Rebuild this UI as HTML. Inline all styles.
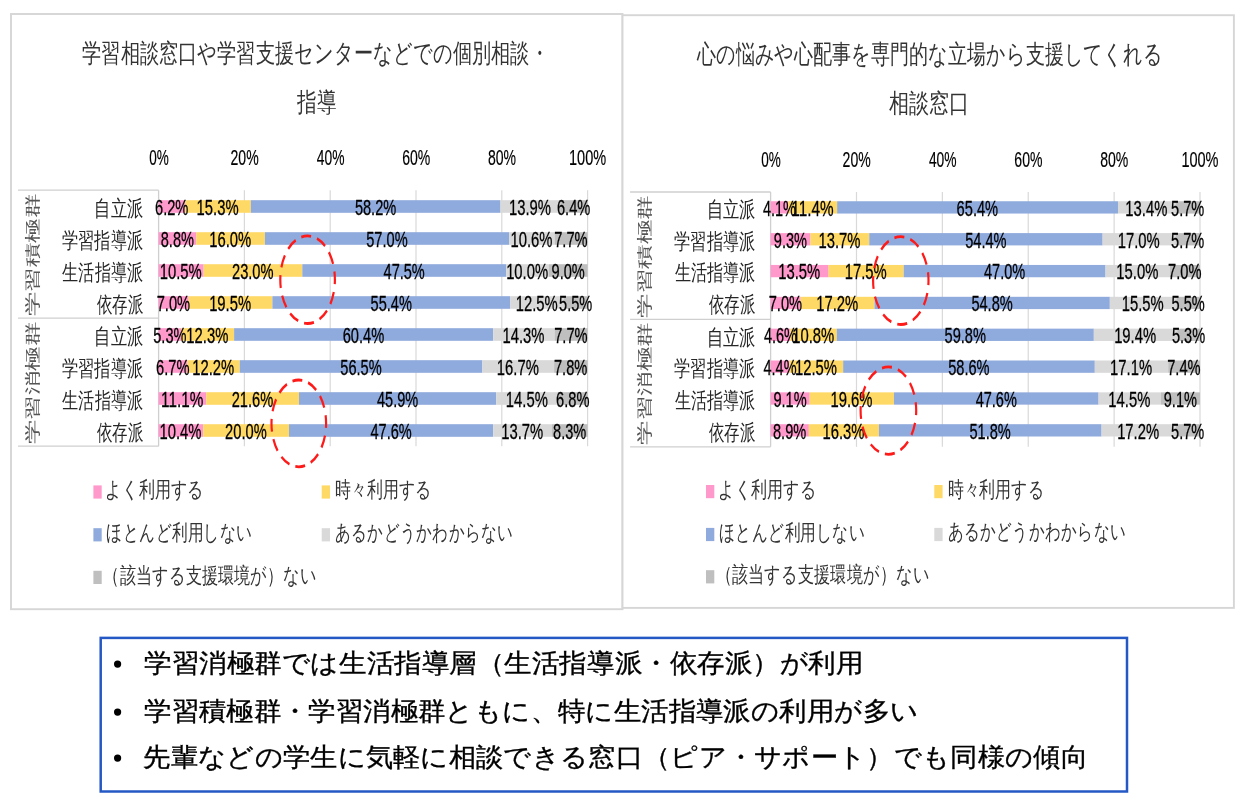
<!DOCTYPE html>
<html lang="ja">
<head>
<meta charset="utf-8">
<title>学生支援の利用状況</title>
<style>
html,body{margin:0;padding:0;background:#fff}
body{width:1235px;height:800px;overflow:hidden;font-family:"Liberation Sans",sans-serif}
svg{display:block;position:absolute;left:0;top:0;will-change:transform}
svg text{font-family:"Liberation Sans",sans-serif;white-space:pre}
svg text.dl{stroke:#000;stroke-width:0.3px}
svg text.ax{stroke:#000;stroke-width:0.2px}
svg text.bt{stroke:#000;stroke-width:0.35px}
</style>
</head>
<body>
<svg width="1235" height="800" viewBox="0 0 1235 800">
<rect x="11.0" y="14.0" width="611.50" height="595.20" fill="#fff" stroke="#d6d6d6" stroke-width="1.9"/>
<text x="82.14" y="61.67" font-size="26" textLength="466.73" lengthAdjust="spacingAndGlyphs" fill="#333">学習相談窓口や学習支援センターなどでの個別相談・</text>
<text x="297.20" y="110.68" font-size="26" textLength="39.34" lengthAdjust="spacingAndGlyphs" fill="#333">指導</text>
<line x1="244.40" y1="190.20" x2="244.40" y2="446.20" stroke="#d9d9d9" stroke-width="1.2"/>
<line x1="330.20" y1="190.20" x2="330.20" y2="446.20" stroke="#d9d9d9" stroke-width="1.2"/>
<line x1="416.00" y1="190.20" x2="416.00" y2="446.20" stroke="#d9d9d9" stroke-width="1.2"/>
<line x1="501.80" y1="190.20" x2="501.80" y2="446.20" stroke="#d9d9d9" stroke-width="1.2"/>
<line x1="587.60" y1="190.20" x2="587.60" y2="446.20" stroke="#d9d9d9" stroke-width="1.2"/>
<text x="149.13" y="164.79" font-size="22.5" textLength="19.53" lengthAdjust="spacingAndGlyphs" fill="#000" class="ax">0%</text>
<text x="230.53" y="164.79" font-size="22.5" textLength="28.12" lengthAdjust="spacingAndGlyphs" fill="#000" class="ax">20%</text>
<text x="316.78" y="164.79" font-size="22.5" textLength="27.66" lengthAdjust="spacingAndGlyphs" fill="#000" class="ax">40%</text>
<text x="402.13" y="164.79" font-size="22.5" textLength="28.12" lengthAdjust="spacingAndGlyphs" fill="#000" class="ax">60%</text>
<text x="487.93" y="164.79" font-size="22.5" textLength="28.12" lengthAdjust="spacingAndGlyphs" fill="#000" class="ax">80%</text>
<text x="568.99" y="164.79" font-size="22.5" textLength="37.15" lengthAdjust="spacingAndGlyphs" fill="#000" class="ax">100%</text>
<line x1="18.00" y1="190.20" x2="158.60" y2="190.20" stroke="#cfcfcf" stroke-width="1.3"/>
<line x1="18.00" y1="318.20" x2="158.60" y2="318.20" stroke="#cfcfcf" stroke-width="1.3"/>
<line x1="18.00" y1="446.20" x2="158.60" y2="446.20" stroke="#cfcfcf" stroke-width="1.3"/>
<line x1="158.60" y1="190.20" x2="158.60" y2="446.20" stroke="#cfcfcf" stroke-width="1.3"/>
<text transform="translate(32.50,255.10) rotate(-90)" x="-60.98" y="5.30" font-size="15.5" textLength="122.55" lengthAdjust="spacingAndGlyphs" fill="#555">学習積極群</text>
<text transform="translate(32.50,383.10) rotate(-90)" x="-60.98" y="5.30" font-size="15.5" textLength="122.55" lengthAdjust="spacingAndGlyphs" fill="#555">学習消極群</text>
<text x="94.28" y="216.28" font-size="21.5" textLength="48.80" lengthAdjust="spacingAndGlyphs" fill="#262626">自立派</text>
<text x="61.91" y="247.75" font-size="21.5" textLength="81.16" lengthAdjust="spacingAndGlyphs" fill="#262626">学習指導派</text>
<text x="62.30" y="279.75" font-size="21.5" textLength="80.77" lengthAdjust="spacingAndGlyphs" fill="#262626">生活指導派</text>
<text x="96.60" y="311.75" font-size="21.5" textLength="46.44" lengthAdjust="spacingAndGlyphs" fill="#262626">依存派</text>
<text x="94.28" y="344.28" font-size="21.5" textLength="48.80" lengthAdjust="spacingAndGlyphs" fill="#262626">自立派</text>
<text x="61.91" y="375.75" font-size="21.5" textLength="81.16" lengthAdjust="spacingAndGlyphs" fill="#262626">学習指導派</text>
<text x="62.30" y="407.75" font-size="21.5" textLength="80.77" lengthAdjust="spacingAndGlyphs" fill="#262626">生活指導派</text>
<text x="96.60" y="439.75" font-size="21.5" textLength="46.44" lengthAdjust="spacingAndGlyphs" fill="#262626">依存派</text>
<rect x="158.60" y="200.20" width="26.60" height="12.60" fill="#ff99cc"/>
<rect x="185.20" y="200.20" width="65.64" height="12.60" fill="#ffd966"/>
<rect x="250.83" y="200.20" width="249.68" height="12.60" fill="#8faadc"/>
<rect x="500.51" y="200.20" width="59.63" height="12.60" fill="#d9d9d9"/>
<rect x="560.14" y="200.20" width="27.46" height="12.60" fill="#bfbfbf"/>
<text x="155.00" y="214.89" font-size="22.5" textLength="33.39" lengthAdjust="spacingAndGlyphs" fill="#000" class="dl">6.2%</text>
<text x="196.62" y="214.89" font-size="22.5" textLength="42.00" lengthAdjust="spacingAndGlyphs" fill="#000" class="dl">15.3%</text>
<text x="354.88" y="214.89" font-size="22.5" textLength="41.39" lengthAdjust="spacingAndGlyphs" fill="#000" class="dl">58.2%</text>
<text x="508.93" y="214.89" font-size="22.5" textLength="42.00" lengthAdjust="spacingAndGlyphs" fill="#000" class="dl">13.9%</text>
<text x="556.98" y="214.89" font-size="22.5" textLength="33.39" lengthAdjust="spacingAndGlyphs" fill="#000" class="dl">6.4%</text>
<rect x="158.60" y="232.20" width="37.71" height="12.60" fill="#ff99cc"/>
<rect x="196.31" y="232.20" width="68.57" height="12.60" fill="#ffd966"/>
<rect x="264.89" y="232.20" width="244.29" height="12.60" fill="#8faadc"/>
<rect x="509.17" y="232.20" width="45.43" height="12.60" fill="#d9d9d9"/>
<rect x="554.60" y="232.20" width="33.00" height="12.60" fill="#bfbfbf"/>
<text x="160.76" y="246.89" font-size="22.5" textLength="33.19" lengthAdjust="spacingAndGlyphs" fill="#000" class="dl">8.8%</text>
<text x="209.20" y="246.89" font-size="22.5" textLength="42.00" lengthAdjust="spacingAndGlyphs" fill="#000" class="dl">16.0%</text>
<text x="366.24" y="246.89" font-size="22.5" textLength="41.39" lengthAdjust="spacingAndGlyphs" fill="#000" class="dl">57.0%</text>
<text x="510.49" y="246.89" font-size="22.5" textLength="42.00" lengthAdjust="spacingAndGlyphs" fill="#000" class="dl">10.6%</text>
<text x="554.20" y="246.89" font-size="22.5" textLength="33.39" lengthAdjust="spacingAndGlyphs" fill="#000" class="dl">7.7%</text>
<rect x="158.60" y="264.20" width="45.04" height="12.60" fill="#ff99cc"/>
<rect x="203.64" y="264.20" width="98.67" height="12.60" fill="#ffd966"/>
<rect x="302.31" y="264.20" width="203.78" height="12.60" fill="#8faadc"/>
<rect x="506.09" y="264.20" width="42.90" height="12.60" fill="#d9d9d9"/>
<rect x="548.99" y="264.20" width="38.61" height="12.60" fill="#bfbfbf"/>
<text x="159.72" y="278.89" font-size="22.5" textLength="42.00" lengthAdjust="spacingAndGlyphs" fill="#000" class="dl">10.5%</text>
<text x="231.99" y="278.89" font-size="22.5" textLength="41.59" lengthAdjust="spacingAndGlyphs" fill="#000" class="dl">23.0%</text>
<text x="383.61" y="278.89" font-size="22.5" textLength="41.18" lengthAdjust="spacingAndGlyphs" fill="#000" class="dl">47.5%</text>
<text x="506.14" y="278.89" font-size="22.5" textLength="42.00" lengthAdjust="spacingAndGlyphs" fill="#000" class="dl">10.0%</text>
<text x="551.60" y="278.89" font-size="22.5" textLength="33.19" lengthAdjust="spacingAndGlyphs" fill="#000" class="dl">9.0%</text>
<rect x="158.60" y="296.20" width="30.06" height="12.60" fill="#ff99cc"/>
<rect x="188.66" y="296.20" width="83.74" height="12.60" fill="#ffd966"/>
<rect x="272.40" y="296.20" width="237.90" height="12.60" fill="#8faadc"/>
<rect x="510.30" y="296.20" width="53.68" height="12.60" fill="#d9d9d9"/>
<rect x="563.98" y="296.20" width="23.62" height="12.60" fill="#bfbfbf"/>
<text x="156.73" y="310.89" font-size="22.5" textLength="33.39" lengthAdjust="spacingAndGlyphs" fill="#000" class="dl">7.0%</text>
<text x="209.13" y="310.89" font-size="22.5" textLength="42.00" lengthAdjust="spacingAndGlyphs" fill="#000" class="dl">19.5%</text>
<text x="370.56" y="310.89" font-size="22.5" textLength="41.39" lengthAdjust="spacingAndGlyphs" fill="#000" class="dl">55.4%</text>
<text x="515.74" y="310.89" font-size="22.5" textLength="42.00" lengthAdjust="spacingAndGlyphs" fill="#000" class="dl">12.5%</text>
<text x="559.10" y="310.89" font-size="22.5" textLength="33.19" lengthAdjust="spacingAndGlyphs" fill="#000" class="dl">5.5%</text>
<rect x="158.60" y="328.20" width="22.74" height="12.60" fill="#ff99cc"/>
<rect x="181.34" y="328.20" width="52.77" height="12.60" fill="#ffd966"/>
<rect x="234.10" y="328.20" width="259.12" height="12.60" fill="#8faadc"/>
<rect x="493.22" y="328.20" width="61.35" height="12.60" fill="#d9d9d9"/>
<rect x="554.57" y="328.20" width="33.03" height="12.60" fill="#bfbfbf"/>
<text x="153.28" y="342.89" font-size="22.5" textLength="33.19" lengthAdjust="spacingAndGlyphs" fill="#000" class="dl">5.3%</text>
<text x="186.32" y="342.89" font-size="22.5" textLength="42.00" lengthAdjust="spacingAndGlyphs" fill="#000" class="dl">12.3%</text>
<text x="342.67" y="342.89" font-size="22.5" textLength="41.59" lengthAdjust="spacingAndGlyphs" fill="#000" class="dl">60.4%</text>
<text x="502.49" y="342.89" font-size="22.5" textLength="42.00" lengthAdjust="spacingAndGlyphs" fill="#000" class="dl">14.3%</text>
<text x="554.19" y="342.89" font-size="22.5" textLength="33.39" lengthAdjust="spacingAndGlyphs" fill="#000" class="dl">7.7%</text>
<rect x="158.60" y="360.20" width="28.77" height="12.60" fill="#ff99cc"/>
<rect x="187.37" y="360.20" width="52.39" height="12.60" fill="#ffd966"/>
<rect x="239.76" y="360.20" width="242.63" height="12.60" fill="#8faadc"/>
<rect x="482.39" y="360.20" width="71.71" height="12.60" fill="#d9d9d9"/>
<rect x="554.10" y="360.20" width="33.50" height="12.60" fill="#bfbfbf"/>
<text x="156.09" y="374.89" font-size="22.5" textLength="33.39" lengthAdjust="spacingAndGlyphs" fill="#000" class="dl">6.7%</text>
<text x="192.17" y="374.89" font-size="22.5" textLength="42.00" lengthAdjust="spacingAndGlyphs" fill="#000" class="dl">12.2%</text>
<text x="340.28" y="374.89" font-size="22.5" textLength="41.39" lengthAdjust="spacingAndGlyphs" fill="#000" class="dl">56.5%</text>
<text x="496.85" y="374.89" font-size="22.5" textLength="42.00" lengthAdjust="spacingAndGlyphs" fill="#000" class="dl">16.7%</text>
<text x="553.96" y="374.89" font-size="22.5" textLength="33.39" lengthAdjust="spacingAndGlyphs" fill="#000" class="dl">7.8%</text>
<rect x="158.60" y="392.20" width="47.67" height="12.60" fill="#ff99cc"/>
<rect x="206.27" y="392.20" width="92.76" height="12.60" fill="#ffd966"/>
<rect x="299.02" y="392.20" width="197.11" height="12.60" fill="#8faadc"/>
<rect x="496.13" y="392.20" width="62.27" height="12.60" fill="#d9d9d9"/>
<rect x="558.40" y="392.20" width="29.20" height="12.60" fill="#bfbfbf"/>
<text x="161.03" y="406.89" font-size="22.5" textLength="42.21" lengthAdjust="spacingAndGlyphs" fill="#000" class="dl">11.1%</text>
<text x="231.65" y="406.89" font-size="22.5" textLength="41.59" lengthAdjust="spacingAndGlyphs" fill="#000" class="dl">21.6%</text>
<text x="376.99" y="406.89" font-size="22.5" textLength="41.18" lengthAdjust="spacingAndGlyphs" fill="#000" class="dl">45.9%</text>
<text x="505.87" y="406.89" font-size="22.5" textLength="42.00" lengthAdjust="spacingAndGlyphs" fill="#000" class="dl">14.5%</text>
<text x="556.10" y="406.89" font-size="22.5" textLength="33.39" lengthAdjust="spacingAndGlyphs" fill="#000" class="dl">6.8%</text>
<rect x="158.60" y="424.20" width="44.62" height="12.60" fill="#ff99cc"/>
<rect x="203.22" y="424.20" width="85.80" height="12.60" fill="#ffd966"/>
<rect x="289.02" y="424.20" width="204.20" height="12.60" fill="#8faadc"/>
<rect x="493.22" y="424.20" width="58.77" height="12.60" fill="#d9d9d9"/>
<rect x="551.99" y="424.20" width="35.61" height="12.60" fill="#bfbfbf"/>
<text x="159.51" y="438.89" font-size="22.5" textLength="42.00" lengthAdjust="spacingAndGlyphs" fill="#000" class="dl">10.4%</text>
<text x="225.12" y="438.89" font-size="22.5" textLength="41.59" lengthAdjust="spacingAndGlyphs" fill="#000" class="dl">20.0%</text>
<text x="370.53" y="438.89" font-size="22.5" textLength="41.18" lengthAdjust="spacingAndGlyphs" fill="#000" class="dl">47.6%</text>
<text x="501.21" y="438.89" font-size="22.5" textLength="42.00" lengthAdjust="spacingAndGlyphs" fill="#000" class="dl">13.7%</text>
<text x="553.10" y="438.89" font-size="22.5" textLength="33.19" lengthAdjust="spacingAndGlyphs" fill="#000" class="dl">8.3%</text>
<ellipse transform="translate(307.6,279.7) scale(0.78,1)" cx="0" cy="0" rx="35.00" ry="43.8" fill="none" stroke="#ff1a1a" stroke-width="2.8" pathLength="120" stroke-dasharray="6.2 3.8" stroke-dashoffset="4.0"/>
<ellipse transform="translate(298.8,423.4) scale(0.78,1)" cx="0" cy="0" rx="35.00" ry="43.4" fill="none" stroke="#ff1a1a" stroke-width="2.8" pathLength="120" stroke-dasharray="6.2 3.8" stroke-dashoffset="4.0"/>
<rect x="93.40" y="485.40" width="8.3" height="13.2" fill="#ff99cc"/>
<text x="105.24" y="497.31" font-size="21.5" textLength="98.92" lengthAdjust="spacingAndGlyphs" fill="#333">よく利用する</text>
<rect x="321.70" y="485.40" width="8.3" height="13.2" fill="#ffd966"/>
<text x="335.03" y="497.31" font-size="21.5" textLength="96.98" lengthAdjust="spacingAndGlyphs" fill="#333">時々利用する</text>
<rect x="93.40" y="528.20" width="8.3" height="13.2" fill="#8faadc"/>
<text x="106.43" y="540.11" font-size="21.5" textLength="146.03" lengthAdjust="spacingAndGlyphs" fill="#333">ほとんど利用しない</text>
<rect x="321.70" y="528.20" width="8.3" height="13.2" fill="#d9d9d9"/>
<text x="335.03" y="539.57" font-size="21.5" textLength="178.33" lengthAdjust="spacingAndGlyphs" fill="#333">あるかどうかわからない</text>
<rect x="93.40" y="570.80" width="8.3" height="13.2" fill="#bfbfbf"/>
<text x="103.45" y="583.07" font-size="21.5" textLength="213.33" lengthAdjust="spacingAndGlyphs" fill="#333">（該当する支援環境が）ない</text>
<rect x="622.5" y="15.2" width="611.40" height="592.70" fill="#fff" stroke="#d6d6d6" stroke-width="1.9"/>
<text x="696.76" y="63.17" font-size="26" textLength="465.71" lengthAdjust="spacingAndGlyphs" fill="#333">心の悩みや心配事を専門的な立場から支援してくれる</text>
<text x="889.12" y="112.28" font-size="26" textLength="80.32" lengthAdjust="spacingAndGlyphs" fill="#333">相談窓口</text>
<line x1="856.48" y1="192.00" x2="856.48" y2="446.80" stroke="#d9d9d9" stroke-width="1.2"/>
<line x1="942.36" y1="192.00" x2="942.36" y2="446.80" stroke="#d9d9d9" stroke-width="1.2"/>
<line x1="1028.24" y1="192.00" x2="1028.24" y2="446.80" stroke="#d9d9d9" stroke-width="1.2"/>
<line x1="1114.12" y1="192.00" x2="1114.12" y2="446.80" stroke="#d9d9d9" stroke-width="1.2"/>
<line x1="1200.00" y1="192.00" x2="1200.00" y2="446.80" stroke="#d9d9d9" stroke-width="1.2"/>
<text x="761.13" y="166.99" font-size="22.5" textLength="19.53" lengthAdjust="spacingAndGlyphs" fill="#000" class="ax">0%</text>
<text x="842.61" y="166.99" font-size="22.5" textLength="28.12" lengthAdjust="spacingAndGlyphs" fill="#000" class="ax">20%</text>
<text x="928.94" y="166.99" font-size="22.5" textLength="27.66" lengthAdjust="spacingAndGlyphs" fill="#000" class="ax">40%</text>
<text x="1014.37" y="166.99" font-size="22.5" textLength="28.12" lengthAdjust="spacingAndGlyphs" fill="#000" class="ax">60%</text>
<text x="1100.25" y="166.99" font-size="22.5" textLength="28.12" lengthAdjust="spacingAndGlyphs" fill="#000" class="ax">80%</text>
<text x="1181.39" y="166.99" font-size="22.5" textLength="37.15" lengthAdjust="spacingAndGlyphs" fill="#000" class="ax">100%</text>
<line x1="630.10" y1="192.00" x2="770.60" y2="192.00" stroke="#cfcfcf" stroke-width="1.3"/>
<line x1="630.10" y1="319.40" x2="770.60" y2="319.40" stroke="#cfcfcf" stroke-width="1.3"/>
<line x1="630.10" y1="446.80" x2="770.60" y2="446.80" stroke="#cfcfcf" stroke-width="1.3"/>
<line x1="770.60" y1="192.00" x2="770.60" y2="446.80" stroke="#cfcfcf" stroke-width="1.3"/>
<text transform="translate(644.40,256.60) rotate(-90)" x="-60.98" y="5.30" font-size="15.5" textLength="122.55" lengthAdjust="spacingAndGlyphs" fill="#555">学習積極群</text>
<text transform="translate(644.40,384.00) rotate(-90)" x="-60.98" y="5.30" font-size="15.5" textLength="122.55" lengthAdjust="spacingAndGlyphs" fill="#555">学習消極群</text>
<text x="706.58" y="217.18" font-size="21.5" textLength="48.80" lengthAdjust="spacingAndGlyphs" fill="#262626">自立派</text>
<text x="674.21" y="248.50" font-size="21.5" textLength="81.16" lengthAdjust="spacingAndGlyphs" fill="#262626">学習指導派</text>
<text x="674.60" y="280.35" font-size="21.5" textLength="80.77" lengthAdjust="spacingAndGlyphs" fill="#262626">生活指導派</text>
<text x="708.90" y="312.20" font-size="21.5" textLength="46.44" lengthAdjust="spacingAndGlyphs" fill="#262626">依存派</text>
<text x="706.58" y="344.58" font-size="21.5" textLength="48.80" lengthAdjust="spacingAndGlyphs" fill="#262626">自立派</text>
<text x="674.21" y="375.90" font-size="21.5" textLength="81.16" lengthAdjust="spacingAndGlyphs" fill="#262626">学習指導派</text>
<text x="674.60" y="407.75" font-size="21.5" textLength="80.77" lengthAdjust="spacingAndGlyphs" fill="#262626">生活指導派</text>
<text x="708.90" y="439.60" font-size="21.5" textLength="46.44" lengthAdjust="spacingAndGlyphs" fill="#262626">依存派</text>
<rect x="770.60" y="201.25" width="17.61" height="12.30" fill="#ff99cc"/>
<rect x="788.21" y="201.25" width="48.95" height="12.30" fill="#ffd966"/>
<rect x="837.16" y="201.25" width="280.83" height="12.30" fill="#8faadc"/>
<rect x="1117.98" y="201.25" width="57.54" height="12.30" fill="#d9d9d9"/>
<rect x="1175.52" y="201.25" width="24.48" height="12.30" fill="#bfbfbf"/>
<text x="762.91" y="215.79" font-size="22.5" textLength="32.99" lengthAdjust="spacingAndGlyphs" fill="#000" class="dl">4.1%</text>
<text x="791.28" y="215.79" font-size="22.5" textLength="42.21" lengthAdjust="spacingAndGlyphs" fill="#000" class="dl">11.4%</text>
<text x="956.58" y="215.79" font-size="22.5" textLength="41.59" lengthAdjust="spacingAndGlyphs" fill="#000" class="dl">65.4%</text>
<text x="1125.35" y="215.79" font-size="22.5" textLength="42.00" lengthAdjust="spacingAndGlyphs" fill="#000" class="dl">13.4%</text>
<text x="1171.07" y="215.79" font-size="22.5" textLength="33.19" lengthAdjust="spacingAndGlyphs" fill="#000" class="dl">5.7%</text>
<rect x="770.60" y="233.10" width="39.89" height="12.30" fill="#ff99cc"/>
<rect x="810.49" y="233.10" width="58.77" height="12.30" fill="#ffd966"/>
<rect x="869.26" y="233.10" width="233.36" height="12.30" fill="#8faadc"/>
<rect x="1102.62" y="233.10" width="72.93" height="12.30" fill="#d9d9d9"/>
<rect x="1175.55" y="233.10" width="24.45" height="12.30" fill="#bfbfbf"/>
<text x="773.85" y="247.64" font-size="22.5" textLength="33.19" lengthAdjust="spacingAndGlyphs" fill="#000" class="dl">9.3%</text>
<text x="818.48" y="247.64" font-size="22.5" textLength="42.00" lengthAdjust="spacingAndGlyphs" fill="#000" class="dl">13.7%</text>
<text x="965.15" y="247.64" font-size="22.5" textLength="41.39" lengthAdjust="spacingAndGlyphs" fill="#000" class="dl">54.4%</text>
<text x="1117.69" y="247.64" font-size="22.5" textLength="42.00" lengthAdjust="spacingAndGlyphs" fill="#000" class="dl">17.0%</text>
<text x="1171.08" y="247.64" font-size="22.5" textLength="33.19" lengthAdjust="spacingAndGlyphs" fill="#000" class="dl">5.7%</text>
<rect x="770.60" y="264.95" width="57.97" height="12.30" fill="#ff99cc"/>
<rect x="828.57" y="264.95" width="75.14" height="12.30" fill="#ffd966"/>
<rect x="903.71" y="264.95" width="201.82" height="12.30" fill="#8faadc"/>
<rect x="1105.53" y="264.95" width="64.41" height="12.30" fill="#d9d9d9"/>
<rect x="1169.94" y="264.95" width="30.06" height="12.30" fill="#bfbfbf"/>
<text x="778.18" y="279.49" font-size="22.5" textLength="42.00" lengthAdjust="spacingAndGlyphs" fill="#000" class="dl">13.5%</text>
<text x="844.74" y="279.49" font-size="22.5" textLength="42.00" lengthAdjust="spacingAndGlyphs" fill="#000" class="dl">17.5%</text>
<text x="984.03" y="279.49" font-size="22.5" textLength="41.18" lengthAdjust="spacingAndGlyphs" fill="#000" class="dl">47.0%</text>
<text x="1116.34" y="279.49" font-size="22.5" textLength="42.00" lengthAdjust="spacingAndGlyphs" fill="#000" class="dl">15.0%</text>
<text x="1168.08" y="279.49" font-size="22.5" textLength="33.39" lengthAdjust="spacingAndGlyphs" fill="#000" class="dl">7.0%</text>
<rect x="770.60" y="296.80" width="30.06" height="12.30" fill="#ff99cc"/>
<rect x="800.66" y="296.80" width="73.86" height="12.30" fill="#ffd966"/>
<rect x="874.51" y="296.80" width="235.31" height="12.30" fill="#8faadc"/>
<rect x="1109.83" y="296.80" width="66.56" height="12.30" fill="#d9d9d9"/>
<rect x="1176.38" y="296.80" width="23.62" height="12.30" fill="#bfbfbf"/>
<text x="768.73" y="311.34" font-size="22.5" textLength="33.39" lengthAdjust="spacingAndGlyphs" fill="#000" class="dl">7.0%</text>
<text x="816.19" y="311.34" font-size="22.5" textLength="42.00" lengthAdjust="spacingAndGlyphs" fill="#000" class="dl">17.2%</text>
<text x="971.38" y="311.34" font-size="22.5" textLength="41.39" lengthAdjust="spacingAndGlyphs" fill="#000" class="dl">54.8%</text>
<text x="1121.70" y="311.34" font-size="22.5" textLength="42.00" lengthAdjust="spacingAndGlyphs" fill="#000" class="dl">15.5%</text>
<text x="1171.50" y="311.34" font-size="22.5" textLength="33.19" lengthAdjust="spacingAndGlyphs" fill="#000" class="dl">5.5%</text>
<rect x="770.60" y="328.65" width="19.77" height="12.30" fill="#ff99cc"/>
<rect x="790.37" y="328.65" width="46.42" height="12.30" fill="#ffd966"/>
<rect x="836.79" y="328.65" width="257.04" height="12.30" fill="#8faadc"/>
<rect x="1093.83" y="328.65" width="83.39" height="12.30" fill="#d9d9d9"/>
<rect x="1177.22" y="328.65" width="22.78" height="12.30" fill="#bfbfbf"/>
<text x="763.99" y="343.19" font-size="22.5" textLength="32.99" lengthAdjust="spacingAndGlyphs" fill="#000" class="dl">4.6%</text>
<text x="792.18" y="343.19" font-size="22.5" textLength="42.00" lengthAdjust="spacingAndGlyphs" fill="#000" class="dl">10.8%</text>
<text x="944.52" y="343.19" font-size="22.5" textLength="41.39" lengthAdjust="spacingAndGlyphs" fill="#000" class="dl">59.8%</text>
<text x="1114.13" y="343.19" font-size="22.5" textLength="42.00" lengthAdjust="spacingAndGlyphs" fill="#000" class="dl">19.4%</text>
<text x="1171.92" y="343.19" font-size="22.5" textLength="33.19" lengthAdjust="spacingAndGlyphs" fill="#000" class="dl">5.3%</text>
<rect x="770.60" y="360.50" width="18.89" height="12.30" fill="#ff99cc"/>
<rect x="789.49" y="360.50" width="53.67" height="12.30" fill="#ffd966"/>
<rect x="843.17" y="360.50" width="251.63" height="12.30" fill="#8faadc"/>
<rect x="1094.80" y="360.50" width="73.43" height="12.30" fill="#d9d9d9"/>
<rect x="1168.22" y="360.50" width="31.78" height="12.30" fill="#bfbfbf"/>
<text x="763.55" y="375.04" font-size="22.5" textLength="32.99" lengthAdjust="spacingAndGlyphs" fill="#000" class="dl">4.4%</text>
<text x="794.93" y="375.04" font-size="22.5" textLength="42.00" lengthAdjust="spacingAndGlyphs" fill="#000" class="dl">12.5%</text>
<text x="948.19" y="375.04" font-size="22.5" textLength="41.39" lengthAdjust="spacingAndGlyphs" fill="#000" class="dl">58.6%</text>
<text x="1110.11" y="375.04" font-size="22.5" textLength="42.00" lengthAdjust="spacingAndGlyphs" fill="#000" class="dl">17.1%</text>
<text x="1167.22" y="375.04" font-size="22.5" textLength="33.39" lengthAdjust="spacingAndGlyphs" fill="#000" class="dl">7.4%</text>
<rect x="770.60" y="392.35" width="39.11" height="12.30" fill="#ff99cc"/>
<rect x="809.71" y="392.35" width="84.25" height="12.30" fill="#ffd966"/>
<rect x="893.96" y="392.35" width="204.60" height="12.30" fill="#8faadc"/>
<rect x="1098.56" y="392.35" width="62.33" height="12.30" fill="#d9d9d9"/>
<rect x="1160.89" y="392.35" width="39.11" height="12.30" fill="#bfbfbf"/>
<text x="773.46" y="406.89" font-size="22.5" textLength="33.19" lengthAdjust="spacingAndGlyphs" fill="#000" class="dl">9.1%</text>
<text x="830.44" y="406.89" font-size="22.5" textLength="42.00" lengthAdjust="spacingAndGlyphs" fill="#000" class="dl">19.6%</text>
<text x="975.67" y="406.89" font-size="22.5" textLength="41.18" lengthAdjust="spacingAndGlyphs" fill="#000" class="dl">47.6%</text>
<text x="1108.32" y="406.89" font-size="22.5" textLength="42.00" lengthAdjust="spacingAndGlyphs" fill="#000" class="dl">14.5%</text>
<text x="1163.75" y="406.89" font-size="22.5" textLength="33.19" lengthAdjust="spacingAndGlyphs" fill="#000" class="dl">9.1%</text>
<rect x="770.60" y="424.20" width="38.25" height="12.30" fill="#ff99cc"/>
<rect x="808.85" y="424.20" width="70.06" height="12.30" fill="#ffd966"/>
<rect x="878.92" y="424.20" width="222.65" height="12.30" fill="#8faadc"/>
<rect x="1101.57" y="424.20" width="73.93" height="12.30" fill="#d9d9d9"/>
<rect x="1175.50" y="424.20" width="24.50" height="12.30" fill="#bfbfbf"/>
<text x="773.03" y="438.74" font-size="22.5" textLength="33.19" lengthAdjust="spacingAndGlyphs" fill="#000" class="dl">8.9%</text>
<text x="822.49" y="438.74" font-size="22.5" textLength="42.00" lengthAdjust="spacingAndGlyphs" fill="#000" class="dl">16.3%</text>
<text x="969.45" y="438.74" font-size="22.5" textLength="41.39" lengthAdjust="spacingAndGlyphs" fill="#000" class="dl">51.8%</text>
<text x="1117.13" y="438.74" font-size="22.5" textLength="42.00" lengthAdjust="spacingAndGlyphs" fill="#000" class="dl">17.2%</text>
<text x="1171.06" y="438.74" font-size="22.5" textLength="33.19" lengthAdjust="spacingAndGlyphs" fill="#000" class="dl">5.7%</text>
<ellipse transform="translate(900.8,280.6) scale(0.78,1)" cx="0" cy="0" rx="35.51" ry="43.9" fill="none" stroke="#ff1a1a" stroke-width="2.8" pathLength="120" stroke-dasharray="6.2 3.8" stroke-dashoffset="4.0"/>
<ellipse transform="translate(888.4,410.6) scale(0.78,1)" cx="0" cy="0" rx="35.64" ry="43.7" fill="none" stroke="#ff1a1a" stroke-width="2.8" pathLength="120" stroke-dasharray="6.2 3.8" stroke-dashoffset="4.0"/>
<rect x="706.00" y="485.00" width="8.3" height="13.2" fill="#ff99cc"/>
<text x="717.84" y="496.91" font-size="21.5" textLength="98.92" lengthAdjust="spacingAndGlyphs" fill="#333">よく利用する</text>
<rect x="934.30" y="485.00" width="8.3" height="13.2" fill="#ffd966"/>
<text x="947.63" y="496.91" font-size="21.5" textLength="96.98" lengthAdjust="spacingAndGlyphs" fill="#333">時々利用する</text>
<rect x="706.00" y="527.90" width="8.3" height="13.2" fill="#8faadc"/>
<text x="719.03" y="539.81" font-size="21.5" textLength="146.03" lengthAdjust="spacingAndGlyphs" fill="#333">ほとんど利用しない</text>
<rect x="934.30" y="527.90" width="8.3" height="13.2" fill="#d9d9d9"/>
<text x="947.63" y="539.27" font-size="21.5" textLength="178.33" lengthAdjust="spacingAndGlyphs" fill="#333">あるかどうかわからない</text>
<rect x="706.00" y="570.20" width="8.3" height="13.2" fill="#bfbfbf"/>
<text x="716.05" y="582.47" font-size="21.5" textLength="213.33" lengthAdjust="spacingAndGlyphs" fill="#333">（該当する支援環境が）ない</text>
<rect x="100.7" y="637.9" width="1026.3" height="153.6" fill="#fff" stroke="#2458c4" stroke-width="2.5"/>
<circle cx="117.6" cy="664.1" r="3.6" fill="#000"/>
<text x="144.14" y="671.70" font-size="25.5" textLength="719.35" lengthAdjust="spacingAndGlyphs" fill="#000" class="bt">学習消極群では生活指導層（生活指導派・依存派）が利用</text>
<circle cx="117.6" cy="712.1" r="3.6" fill="#000"/>
<text x="144.14" y="719.91" font-size="25.5" textLength="774.23" lengthAdjust="spacingAndGlyphs" fill="#000" class="bt">学習積極群・学習消極群ともに、特に生活指導派の利用が多い</text>
<circle cx="117.6" cy="758.1" r="3.6" fill="#000"/>
<text x="143.48" y="765.70" font-size="25.5" textLength="944.35" lengthAdjust="spacingAndGlyphs" fill="#000" class="bt">先輩などの学生に気軽に相談できる窓口（ピア・サポート）でも同様の傾向</text>
</svg>
</body>
</html>
